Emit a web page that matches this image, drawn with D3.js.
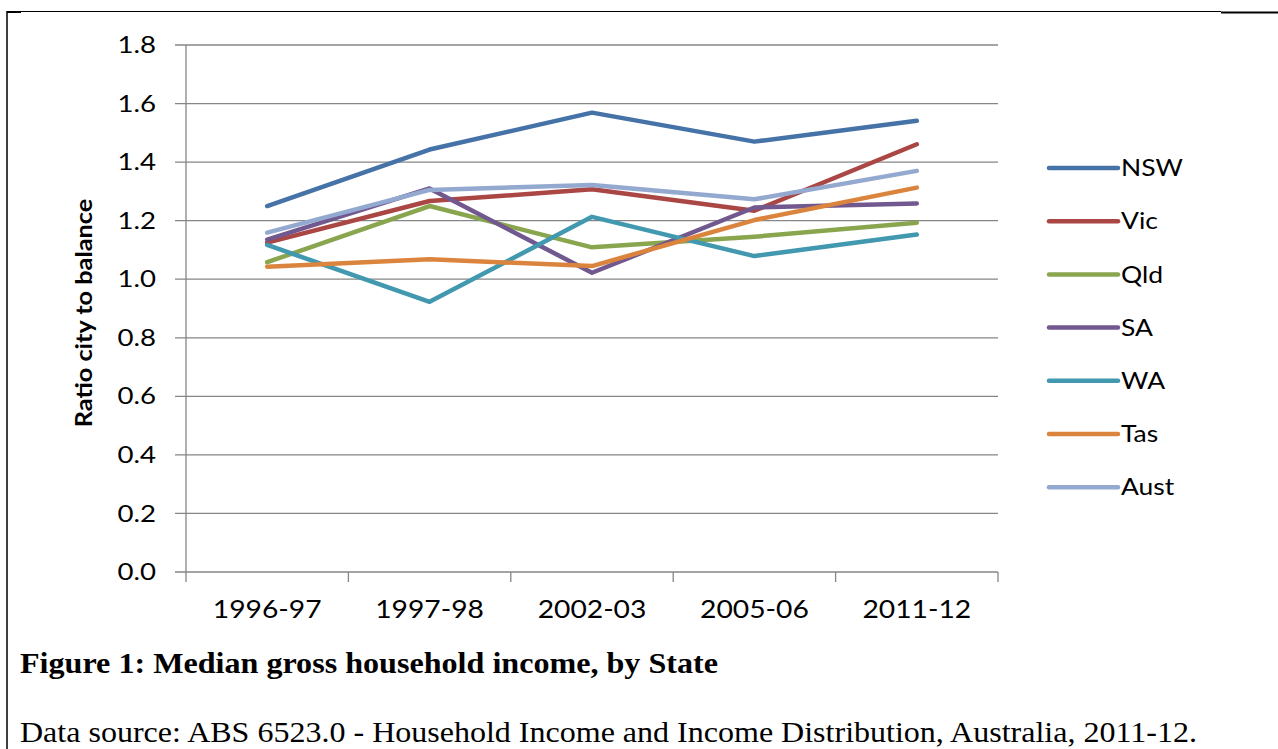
<!DOCTYPE html>
<html><head><meta charset="utf-8">
<script src="https://cdn.jsdelivr.net/npm/d3@7"></script>
<style>body{margin:0;background:#fff;}svg{display:block;}</style>
</head><body><svg id="c" width="1278" height="749"></svg>
<script>
const categories = ["1996-97","1997-98","2002-03","2005-06","2011-12"];
const seriesNames = ["NSW","Vic","Qld","SA","WA","Tas","Aust"];
const NSW  = [1.25, 1.443, 1.569, 1.470, 1.541];
const Vic  = [1.125, 1.267, 1.307, 1.234, 1.461];
const Qld  = [1.058, 1.25, 1.109, 1.145, 1.193];
const SA   = [1.135, 1.31, 1.022, 1.245, 1.259];
const WA   = [1.117, 0.923, 1.213, 1.079, 1.153];
const Tas  = [1.043, 1.068, 1.045, 1.202, 1.313];
const Aust = [1.159, 1.305, 1.322, 1.273, 1.370];
const yTicks = [0,0.2,0.4,0.6,0.8,1.0,1.2,1.4,1.6,1.8];
const colors = ["#4572A7","#AA4643","#89A54E","#71588F","#4198AF","#DB843D","#93A9CF"];
const seriesValues = [NSW,Vic,Qld,SA,WA,Tas,Aust];

const svg = d3.select("#c");
const pL = 186, pR = 998, pT = 45, pB = 572;
const x = d3.scalePoint().domain(categories).range([pL,pR]).padding(0.5);
const xb = d3.scaleBand().domain(categories).range([pL,pR]);
const y = d3.scaleLinear().domain([0,1.8]).range([pB,pT]);
const grid = "#868686";
const font = "Lato, 'Open Sans', sans-serif";
const serif = "'Liberation Serif','Times New Roman',serif";

// page border
svg.append("line").attr("x1",7).attr("x2",7).attr("y1",11).attr("y2",749).attr("stroke","#000").attr("stroke-width",1.5);
svg.append("line").attr("x1",7).attr("x2",1221).attr("y1",11.5).attr("y2",11.5).attr("stroke","#000").attr("stroke-width",1);
svg.append("line").attr("x1",7).attr("x2",21).attr("y1",12).attr("y2",12).attr("stroke","#000").attr("stroke-width",2);
svg.append("line").attr("x1",1221).attr("x2",1278).attr("y1",12.5).attr("y2",12.5).attr("stroke","#000").attr("stroke-width",2);

// gridlines
svg.append("g").selectAll("line").data(yTicks).join("line")
  .attr("x1",pL-11).attr("x2",pR).attr("y1",d=>y(d)).attr("y2",d=>y(d))
  .attr("stroke",grid).attr("stroke-width",1.3);
// y axis line
svg.append("line").attr("x1",pL).attr("x2",pL).attr("y1",pT).attr("y2",pB).attr("stroke",grid).attr("stroke-width",1.3);
// y tick labels
svg.append("g").selectAll("text").data(yTicks).join("text")
  .attr("transform",d=>`translate(156,${y(d)}) scale(1.2,1)`).attr("dy","0.35em").attr("text-anchor","end")
  .attr("font-family",font).attr("font-size",23).attr("fill","#000").text(d=>d.toFixed(1));
// x tick marks
const edges = categories.map(c=>xb(c)).concat([pR]);
svg.append("g").selectAll("line").data(edges).join("line")
  .attr("x1",d=>d).attr("x2",d=>d).attr("y1",pB).attr("y2",pB+10)
  .attr("stroke",grid).attr("stroke-width",1.3);
// x labels
svg.append("g").selectAll("text").data(categories).join("text")
  .attr("transform",d=>`translate(${x(d)},618) scale(1.13,1)`).attr("text-anchor","middle")
  .attr("font-family",font).attr("font-size",25).attr("fill","#000").text(d=>d);
// y title
svg.append("text").attr("transform","translate(92,313) rotate(-90) scale(1.15,1)").attr("text-anchor","middle")
  .attr("font-family",font).attr("font-size",22).attr("font-weight","bold").attr("fill","#000").text("Ratio city to balance");

// lines
const line = d3.line().x((d,i)=>x(categories[i])).y(d=>y(d));
svg.append("g").selectAll("path").data(seriesValues).join("path")
  .attr("d",d=>line(d)).attr("fill","none").attr("stroke",(d,i)=>colors[i])
  .attr("stroke-width",4.5).attr("stroke-linecap","round").attr("stroke-linejoin","round");

// legend
const lg = svg.append("g").selectAll("g").data(seriesNames).join("g")
  .attr("transform",(d,i)=>`translate(0,${168+i*53.2})`);
lg.append("line").attr("x1",1049).attr("x2",1118).attr("y1",0).attr("y2",0)
  .attr("stroke",(d,i)=>colors[i]).attr("stroke-width",4.5).attr("stroke-linecap","round");
lg.append("text").attr("transform","translate(1121,0) scale(1.15,1)").attr("dy","0.36em")
  .attr("font-family",font).attr("font-size",23).attr("fill","#000").text(d=>d);

// captions
svg.append("text").attr("x",20).attr("y",673).attr("font-family",serif)
  .attr("font-size",30).attr("font-weight","bold").attr("fill","#000")
  .attr("textLength",698).attr("lengthAdjust","spacingAndGlyphs")
  .text("Figure 1: Median gross household income, by State");
svg.append("text").attr("x",20).attr("y",742).attr("font-family",serif)
  .attr("font-size",30).attr("fill","#000")
  .attr("textLength",1177).attr("lengthAdjust","spacingAndGlyphs")
  .text("Data source: ABS 6523.0 - Household Income and Income Distribution, Australia, 2011-12.");
</script></body></html>
